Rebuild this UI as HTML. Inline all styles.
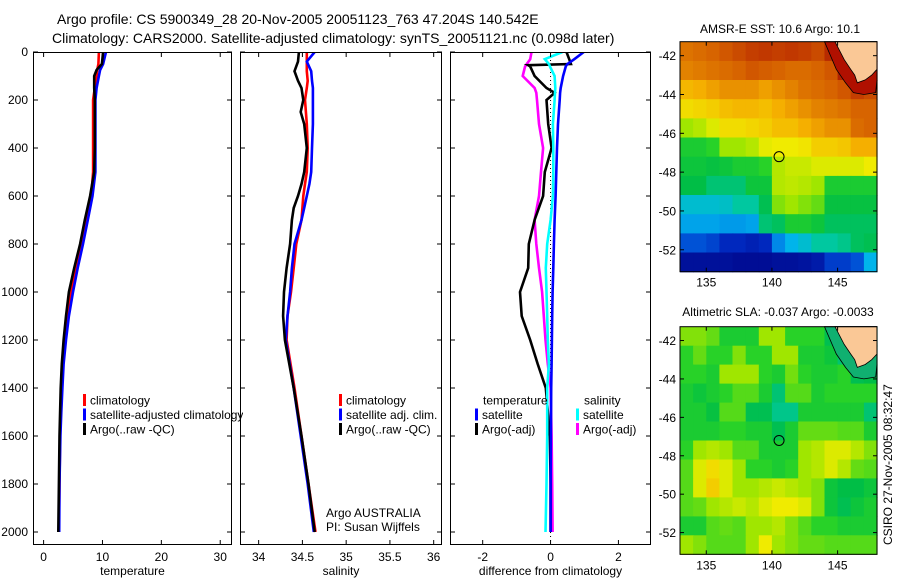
<!DOCTYPE html>
<html><head><meta charset="utf-8">
<style>
html,body{margin:0;padding:0;background:#fff;}
svg{display:block;font-family:"Liberation Sans",sans-serif;}
text{fill:#000;}
</style></head>
<body>
<svg id="fig" width="900" height="580" viewBox="0 0 900 580" xmlns="http://www.w3.org/2000/svg">
<text x="57" y="24" font-size="14">Argo profile: CS 5900349_28 20-Nov-2005 20051123_763 47.204S 140.542E</text>
<text x="52" y="43" font-size="14">Climatology: CARS2000. Satellite-adjusted climatology: synTS_20051121.nc (0.098d later)</text>
<text x="780" y="33" font-size="12" text-anchor="middle">AMSR-E SST: 10.6 Argo: 10.1</text>
<text x="778" y="316" font-size="12" text-anchor="middle">Altimetric SLA: -0.037 Argo: -0.0033</text>
<text transform="translate(892,545) rotate(-90)" font-size="12">CSIRO 27-Nov-2005 08:32:47</text>
<text x="326" y="517" font-size="12">Argo AUSTRALIA</text>
<text x="326" y="531" font-size="12">PI: Susan Wijffels</text>
</svg>
<script>
// ---- profile data ----
const depthT = [0,50,75,100,150,200,300,400,500,600,700,800,900,1000,1100,1200,1300,1400,1500,1600,1800,2000];
const tempClim = [9.4,9.3,9.1,9.0,8.7,8.4,8.4,8.4,8.4,8.1,7.3,6.5,5.6,4.65,4.1,3.6,3.3,3.1,2.9,2.8,2.7,2.6];
const tempSat  = [10.6,10.1,9.6,9.4,9.0,8.8,8.8,8.8,8.8,8.3,7.5,6.7,5.8,5.0,4.3,3.8,3.4,3.2,3.0,2.85,2.7,2.65];
const tempArgo = [10.1,9.9,9.0,8.6,8.6,8.7,8.7,8.7,8.6,7.9,7.0,6.2,5.2,4.3,3.8,3.4,3.1,2.9,2.8,2.7,2.6,2.5];

const depthS = [0,40,80,120,150,200,250,300,400,500,550,600,650,700,800,900,1000,1100,1200,1400,1600,1800,2000];
const salClim = [34.55,34.55,34.55,34.56,34.55,34.53,34.54,34.55,34.56,34.55,34.53,34.51,34.50,34.49,34.43,34.40,34.37,34.33,34.32,34.41,34.49,34.57,34.65];
const salSat  = [34.64,34.55,34.60,34.61,34.62,34.62,34.62,34.62,34.61,34.60,34.58,34.55,34.52,34.49,34.41,34.38,34.36,34.33,34.31,34.40,34.48,34.56,34.63];
const salArgo = [34.46,34.45,34.41,34.45,34.49,34.51,34.48,34.52,34.55,34.52,34.49,34.45,34.40,34.38,34.36,34.32,34.29,34.28,34.30,34.40,34.49,34.57,34.64];

const depthD = [0,30,50,55,60,100,150,170,200,300,400,500,600,700,800,900,1000,1100,1200,1300,1400,1600,1800,2000];
const diffTempSat = [0.98,0.7,0.5,0.47,0.45,0.37,0.3,0.28,0.27,0.22,0.19,0.17,0.15,0.12,0.1,0.08,0.06,0.05,0.04,0.03,0.02,0.01,0.0,0.0];
const diffSalSat  = [0.35,-0.17,-0.05,-0.03,-0.02,0.12,0.14,0.13,0.12,0.07,0.08,0.08,0.07,0.0,-0.1,-0.14,-0.12,-0.1,-0.08,-0.05,-0.1,-0.1,-0.12,-0.15];
const diffTempArgo= [0.47,0.55,0.6,-0.66,-0.6,-0.47,-0.12,0.12,-0.12,-0.07,0.03,-0.17,-0.22,-0.47,-0.64,-0.66,-0.9,-0.85,-0.6,-0.38,-0.14,-0.02,0.0,0.0];
const diffSalArgo = [-0.56,-0.6,-0.7,-0.72,-0.75,-0.82,-0.47,-0.42,-0.4,-0.34,-0.22,-0.28,-0.34,-0.47,-0.42,-0.34,-0.25,-0.2,-0.15,-0.08,0.0,0.03,0.05,0.06];

const depthTicks = [0,200,400,600,800,1000,1200,1400,1600,1800,2000];
const tempTicks = [0,10,20,30];
const salTicks = [34,34.5,35,35.5,36];
const salTickLabels = ["34","34.5","35","35.5","36"];
const diffTicks = [-2,0,2];

// ---- map data (rows north->south, cols west->east, 0..1 colour index; -1 = land) ----
const sstGrid = [
[0.84,0.85,0.86,0.88,0.9,0.92,0.93,0.92,0.93,0.92,0.9,0.95,-1,-1,-1],
[0.82,0.83,0.84,0.85,0.86,0.88,0.87,0.86,0.85,0.85,0.86,0.88,0.96,-1,-1],
[0.75,0.76,0.78,0.8,0.8,0.8,0.78,0.8,0.82,0.84,0.85,0.86,0.88,0.92,0.9],
[0.70,0.71,0.72,0.74,0.75,0.75,0.74,0.76,0.78,0.8,0.82,0.83,0.84,0.86,0.86],
[0.60,0.62,0.66,0.70,0.70,0.71,0.72,0.74,0.74,0.76,0.78,0.8,0.8,0.85,0.86],
[0.50,0.50,0.52,0.60,0.60,0.62,0.67,0.68,0.68,0.69,0.72,0.72,0.73,0.76,0.76],
[0.48,0.48,0.47,0.48,0.50,0.50,0.52,0.62,0.64,0.64,0.66,0.66,0.66,0.66,0.68],
[0.46,0.46,0.42,0.42,0.42,0.48,0.48,0.62,0.63,0.62,0.60,0.5,0.5,0.5,0.5],
[0.33,0.33,0.33,0.34,0.38,0.38,0.45,0.58,0.60,0.58,0.56,0.47,0.47,0.47,0.47],
[0.28,0.28,0.28,0.27,0.27,0.28,0.42,0.44,0.50,0.50,0.48,0.44,0.44,0.44,0.44],
[0.18,0.18,0.16,0.12,0.12,0.10,0.12,0.25,0.30,0.33,0.38,0.38,0.40,0.44,0.45],
[0.05,0.05,0.05,0.05,0.04,0.04,0.04,0.05,0.05,0.06,0.08,0.15,0.15,0.18,0.3]
];
const slaGrid = [
[0.58,0.58,0.56,0.50,0.50,0.50,0.60,0.60,0.52,0.52,0.52,0.45,-1,-1,-1],
[0.52,0.56,0.52,0.52,0.58,0.52,0.52,0.60,0.60,0.50,0.50,0.48,0.42,-1,-1],
[0.52,0.52,0.50,0.60,0.60,0.60,0.52,0.50,0.57,0.52,0.50,0.50,0.52,0.45,0.46],
[0.50,0.48,0.50,0.52,0.55,0.55,0.50,0.42,0.55,0.55,0.50,0.52,0.52,0.52,0.52],
[0.50,0.50,0.47,0.55,0.55,0.45,0.45,0.40,0.40,0.50,0.50,0.50,0.50,0.50,0.42],
[0.50,0.50,0.50,0.52,0.52,0.50,0.50,0.45,0.50,0.56,0.56,0.56,0.55,0.55,0.50],
[0.52,0.60,0.62,0.60,0.55,0.55,0.50,0.50,0.50,0.60,0.62,0.66,0.66,0.62,0.58],
[0.55,0.66,0.70,0.66,0.60,0.52,0.52,0.50,0.52,0.60,0.62,0.66,0.62,0.56,0.55],
[0.55,0.66,0.72,0.66,0.60,0.60,0.62,0.64,0.62,0.60,0.58,0.48,0.46,0.46,0.48],
[0.55,0.56,0.60,0.62,0.64,0.62,0.66,0.68,0.68,0.66,0.58,0.48,0.45,0.48,0.50],
[0.50,0.50,0.55,0.56,0.55,0.60,0.60,0.62,0.58,0.55,0.52,0.52,0.50,0.50,0.50],
[0.60,0.58,0.55,0.55,0.55,0.60,0.68,0.60,0.58,0.56,0.56,0.55,0.55,0.55,0.55]
];
const lonTicks = [135,140,145];
const latTicks = [-42,-44,-46,-48,-50,-52];
const argoLon = [140.542];
const argoLat = [-47.204];

const NS = "http://www.w3.org/2000/svg";
const svg = document.getElementById('fig');
function mk(tag, attrs, parent){
  const e = document.createElementNS(NS, tag);
  for (const k in attrs) e.setAttribute(k, attrs[k]);
  (parent||svg).appendChild(e);
  return e;
}
function lin(d0,d1,r0,r1){ return v => r0 + (v-d0)/(d1-d0)*(r1-r0); }

const TOP=52, BOT=545;
const yD = lin(0,2000,52,532);

const panels = [
 {name:'temperature', x0:33, x1:232, dom:[-1.8,32.0], ticks:tempTicks, labels:tempTicks.map(String), label:'temperature', ylabels:true,
  series:[[tempClim,'#ff0000',depthT],[tempSat,'#0000ff',depthT],[tempArgo,'#000000',depthT]]},
 {name:'salinity', x0:240, x1:442, dom:[33.787,36.095], ticks:salTicks, labels:salTickLabels, label:'salinity', ylabels:false,
  series:[[salClim,'#ff0000',depthS],[salSat,'#0000ff',depthS],[salArgo,'#000000',depthS]]},
 {name:'difference', x0:450, x1:651, dom:[-2.963,2.96], ticks:diffTicks, labels:diffTicks.map(String), label:'difference from climatology', ylabels:false,
  series:[[diffSalArgo,'#ff00ff',depthD],[diffTempArgo,'#000000',depthD],[diffSalSat,'#00ffff',depthD],[diffTempSat,'#0000ff',depthD]]}
];

panels.forEach(p=>{
  const g = mk('g',{});
  
  
  const xs = lin(p.dom[0],p.dom[1],p.x0,p.x1);
  const clipId='clip-'+p.name;
  const cp = mk('clipPath',{id:clipId},g);
  mk('rect',{x:p.x0,y:TOP,width:p.x1-p.x0,height:BOT-TOP},cp);
  if (p.name==='difference'){
    const zl = mk('line',{x1:xs(0),x2:xs(0),y1:TOP,y2:BOT,stroke:'#000','stroke-width':1,'stroke-dasharray':'1,3'},g);
    
    
  }
  const sg = mk('g',{'clip-path':'url(#'+clipId+')'},g);
  p.series.forEach(s=>{
    const pts = s[0].map((v,i)=>xs(v).toFixed(1)+','+yD(s[2][i]).toFixed(1)).join(' ');
    const pl = mk('polyline',{points:pts,fill:'none',stroke:s[1],'stroke-width':2.6,'stroke-linejoin':'miter'},sg);
    
    
  });
  const box = mk('rect',{x:p.x0+0.5,y:TOP+0.5,width:p.x1-p.x0-1,height:BOT-TOP-1,fill:'none',stroke:'#000','stroke-width':1},g);
  
  
  p.ticks.forEach((t,i)=>{
    const x = xs(t);
    mk('line',{x1:x,x2:x,y1:BOT,y2:BOT-5,stroke:'#000'},g);
    mk('line',{x1:x,x2:x,y1:TOP,y2:TOP+5,stroke:'#000'},g);
    const tl = mk('text',{x:x,y:BOT+16,'font-size':12,'text-anchor':'middle'},g);
    tl.textContent = p.labels[i];
    
    
  });
  depthTicks.forEach(d=>{
    const y=yD(d);
    mk('line',{x1:p.x0,x2:p.x0+5,y1:y,y2:y,stroke:'#000'},g);
    mk('line',{x1:p.x1,x2:p.x1-5,y1:y,y2:y,stroke:'#000'},g);
    if (p.ylabels){
      const yl = mk('text',{x:28,y:y+4,'font-size':12,'text-anchor':'end'},g);
      yl.textContent = String(d);
      
      
    }
  });
  const xl = mk('text',{x:(p.x0+p.x1)/2,y:575,'font-size':12,'text-anchor':'middle'},g);
  xl.textContent = p.label;
  
  
});

// legends
function legendEntry(x,y,color,label){
  if (color) mk('rect',{x:x,y:y-6,width:3,height:12,fill:color});
  const t = mk('text',{x:x+7,y:y+4.5,'font-size':12});
  t.textContent = label;
  
  
  return t;
}
legendEntry(83,400,'#ff0000','climatology');
legendEntry(83,414.5,'#0000ff','satellite-adjusted climatology');
legendEntry(83,429,'#000000','Argo(..raw -QC)');
legendEntry(339,400,'#ff0000','climatology');
legendEntry(339,414.5,'#0000ff','satellite adj. clim.');
legendEntry(339,429,'#000000','Argo(..raw -QC)');
legendEntry(476,400,null,'temperature');
legendEntry(475,414.5,'#0000ff','satellite');
legendEntry(475,429,'#000000','Argo(-adj)');
legendEntry(577,400,null,'salinity');
legendEntry(576,414.5,'#00ffff','satellite');
legendEntry(576,429,'#ff00ff','Argo(-adj)');
const mask = mk('rect',{x:243,y:405,width:20,height:14,fill:'#fff'});


mk('line',{x1:240.5,x2:240.5,y1:400,y2:430,stroke:'#000'});

// ---- maps ----
const stops = [[0,[0,0,128]],[0.12,[0,40,190]],[0.22,[0,110,230]],[0.3,[0,180,235]],[0.38,[0,200,160]],[0.46,[0,190,70]],[0.52,[40,210,40]],[0.6,[160,230,0]],[0.68,[240,235,0]],[0.76,[245,175,0]],[0.86,[215,100,0]],[0.94,[190,50,0]],[1,[150,0,0]]];
function cmap(v){
  for (let i=1;i<stops.length;i++){
    if (v<=stops[i][0]){
      const a=stops[i-1],b=stops[i],f=(v-a[0])/(b[0]-a[0]);
      const c=a[1].map((q,k)=>Math.round(q+(b[1][k]-q)*f));
      return 'rgb('+c.join(',')+')';
    }
  }
  return 'rgb(150,0,0)';
}
const LON0=133.0, LON1=148.0, LAT0=-41.28, LAT1=-53.13;
const shelfLon = [144.0,144.9,145.6,146.2,147.0,147.9,148.0,148.0];
const shelfLat = [-41.28,-42.7,-43.4,-43.9,-44.0,-43.9,-43.2,-41.28];
const landLon = [144.8,145.5,146.0,146.3,146.5,147.1,147.6,148.0,148.0];
const landLat = [-41.28,-42.2,-42.7,-43.0,-43.4,-43.25,-43.0,-42.7,-41.28];
function drawMap(name, grid, top, bot, coastFill){
  const xm = lin(LON0,LON1,680,877);
  const ym = lin(LAT0,LAT1,top,bot);
  const g = mk('g',{});
  
  
  const rows = grid.length, cols = grid[0].length;
  const dLon=(LON1-LON0)/cols, dLat=(LAT1-LAT0)/rows;
  grid.forEach((row,r)=>row.forEach((v,c)=>{
    const x=xm(LON0+c*dLon), y=ym(LAT0+r*dLat);
    const w=xm(LON0+(c+1)*dLon)-x, h=ym(LAT0+(r+1)*dLat)-y;
    const cell = mk('rect',{x:x.toFixed(1),y:y.toFixed(1),width:(w+0.6).toFixed(1),height:(h+0.6).toFixed(1),fill: v<0 ? coastFill : cmap(v)},g);
    
    
  }));
  const bp = mk('polygon',{points:shelfLon.map((l,i)=>xm(l).toFixed(1)+','+ym(shelfLat[i]).toFixed(1)).join(' '),fill:coastFill,stroke:'#000','stroke-width':0.8},g);
  
  
  const lp = mk('polygon',{points:landLon.map((l,i)=>xm(l).toFixed(1)+','+ym(landLat[i]).toFixed(1)).join(' '),fill:'#fac896',stroke:'#000','stroke-width':0.8},g);
  
  
  const fl = mk('circle',{cx:xm(argoLon[0]),cy:ym(argoLat[0]),r:5,fill:'none',stroke:'#000','stroke-width':1},g);
  
  
  const b = mk('rect',{x:680,y:top,width:197,height:bot-top,fill:'none',stroke:'#000','stroke-width':1},g);
  
  
  lonTicks.forEach(l=>{
    const x=xm(l);
    mk('line',{x1:x,x2:x,y1:bot,y2:bot-4,stroke:'#000'},g);
    mk('line',{x1:x,x2:x,y1:top,y2:top+4,stroke:'#000'},g);
    const t=mk('text',{x:x,y:bot+15,'font-size':12,'text-anchor':'middle'},g);
    t.textContent=String(l);
    
    
  });
  latTicks.forEach(l=>{
    const y=ym(l);
    mk('line',{x1:680,x2:684,y1:y,y2:y,stroke:'#000'},g);
    mk('line',{x1:877,x2:873,y1:y,y2:y,stroke:'#000'},g);
    const t=mk('text',{x:676,y:y+4.5,'font-size':12,'text-anchor':'end'},g);
    t.textContent=String(l);
    
    
  });
}
drawMap('sst-map', sstGrid, 41.7, 271.7, '#b01000');
drawMap('sla-map', slaGrid, 326.7, 554.3, '#10b070');
</script>
</body></html>
